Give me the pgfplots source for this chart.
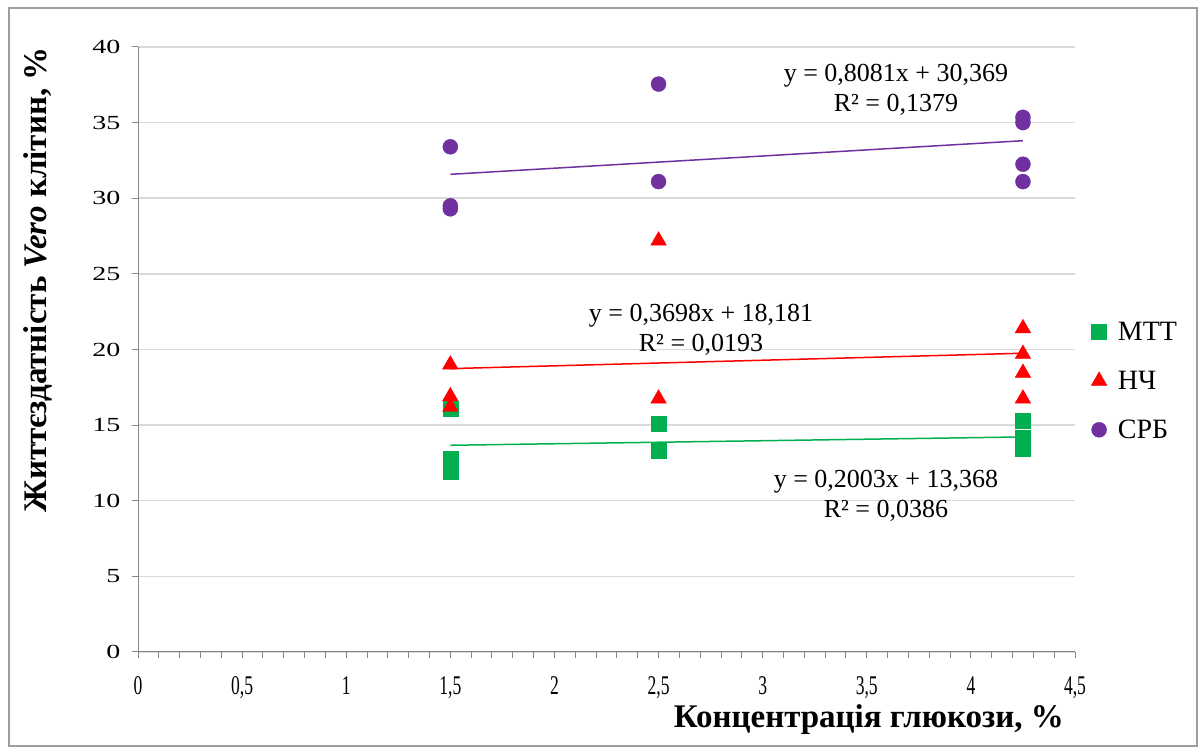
\documentclass[border=0pt]{standalone}
\usepackage{pgfplots}
\pgfplotsset{compat=1.18}
\usepackage{fontspec}
\setmainfont{Liberation Serif}
\definecolor{cmtt}{HTML}{00B050}
\definecolor{cnch}{HTML}{FF0000}
\definecolor{csrb}{HTML}{7030A0}
\definecolor{gridc}{HTML}{D9D9D9}
\definecolor{axc}{HTML}{868686}
\begin{document}
\begin{tikzpicture}
\useasboundingbox (0pt,0pt) rectangle (1201pt,749pt);
\draw[color=axc!80, line width=1.2pt] (9pt,3pt) rectangle (1197pt,741pt);
\begin{axis}[
  at={(138pt,97pt)}, anchor=origin,
  scale only axis, width=937pt, height=605pt,
  xmin=0, xmax=4.5, ymin=0, ymax=40,
  axis lines*=left,
  axis line style={axc, line width=1pt},
  xtick={0,0.5,...,4.5}, ytick={0,5,...,40},
  minor x tick num=4,
  tick align=outside,
  major tick length=6pt, minor tick length=6pt,
  tick style={axc, line width=1pt},
  ymajorgrids, grid style={gridc, line width=1.5pt},
  /pgf/number format/use comma,
  /pgf/number format/assume math mode=true,
  xticklabel style={font=\fontsize{27}{30}\selectfont, yshift=-15pt},
  xticklabel={\scalebox{0.65}[1]{\pgfmathprintnumber{\tick}}},
  yticklabel style={font=\fontsize{20}{24}\selectfont, xshift=-8pt},
  yticklabel={\scalebox{1.4}[1]{\pgfmathprintnumber{\tick}}},
  xlabel={\textbf{Концентрація глюкози, \%}},
  xlabel style={font=\fontsize{33}{38}\selectfont, at={(axis description cs:0.780,-0.112)}, anchor=center},
  ylabel={\textbf{Життєздатність \textit{Vero} клітин, \%}},
  ylabel style={font=\fontsize{33}{38}\selectfont, at={(axis description cs:-0.1067,0.615)}, anchor=center},
  legend style={at={(axis description cs:1.014,0.448)}, anchor=west, draw=none, fill=none,
    font=\fontsize{28}{32}\selectfont, row sep=27pt, nodes={inner sep=1pt},
    /tikz/every odd column/.append style={column sep=10pt}},
  legend cell align=left,
  legend image code/.code={\draw[#1] plot coordinates {(0.2cm,0cm)};},
  clip=false,
]
\addplot[only marks, color=cmtt, mark=square*, mark size=7.5pt, mark options={draw=cmtt, fill=cmtt}]
  coordinates {(1.5,16.1)(1.5,12.76)(1.5,11.9)(2.5,15.07)(2.5,13.3)(4.25,15.3)(4.25,14.2)(4.25,13.45)};
\addlegendentry{МТТ}
\addplot[only marks, color=cnch, mark=triangle*, mark size=9pt, mark options={draw=cnch, fill=cnch}]
  coordinates {(1.5,19.0)(1.5,16.9)(1.5,16.2)(2.5,27.2)(2.5,16.75)(4.25,21.4)(4.25,19.7)(4.25,18.45)(4.25,16.75)};
\addlegendentry{НЧ}
\addplot[only marks, color=csrb, mark=*, mark size=7.5pt, mark options={draw=csrb, fill=csrb}]
  coordinates {(1.5,33.4)(1.5,29.5)(1.5,29.3)(2.5,37.55)(2.5,31.1)(4.25,35.35)(4.25,35.0)(4.25,32.25)(4.25,31.1)};
\addlegendentry{СРБ}
\addplot[cmtt, line width=1.5pt, forget plot] coordinates {(1.5,13.668)(4.25,14.219)};
\addplot[cnch, line width=1.5pt, forget plot] coordinates {(1.5,18.736)(4.25,19.753)};
\addplot[csrb, line width=1.5pt, forget plot] coordinates {(1.5,31.581)(4.25,33.803)};
\node[align=center, font=\fontsize{26}{30}\selectfont] at (axis cs:3.640,37.16) {y = 0,8081x + 30,369\\R² = 0,1379};
\node[align=center, font=\fontsize{26}{30}\selectfont] at (axis cs:2.704,21.29) {y = 0,3698x + 18,181\\R² = 0,0193};
\node[align=center, font=\fontsize{26}{30}\selectfont] at (axis cs:3.592,10.31) {y = 0,2003x + 13,368\\R² = 0,0386};
\end{axis}
\end{tikzpicture}
\end{document}
